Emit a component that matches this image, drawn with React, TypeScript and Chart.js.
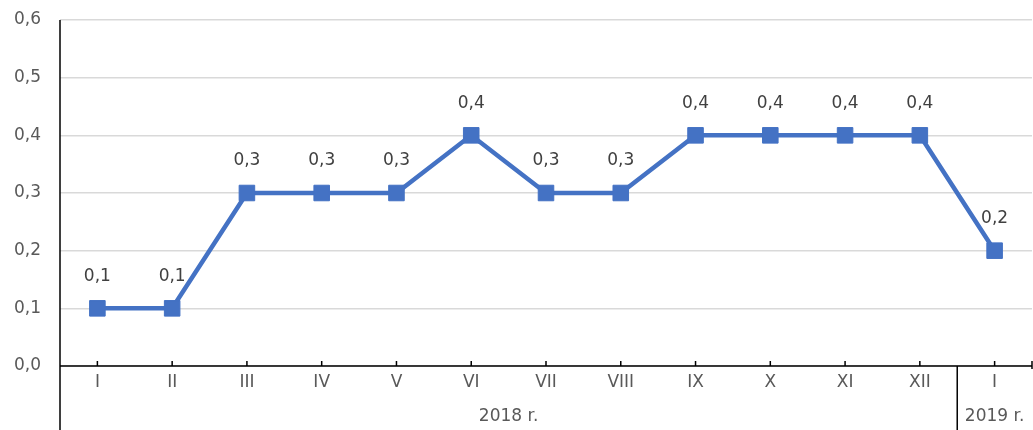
import React, { useEffect, useRef } from "react";
import { Chart, registerables } from "chart.js";

Chart.register(...registerables);

const categories = ["I", "II", "III", "IV", "V", "VI", "VII", "VIII", "IX", "X", "XI", "XII", "I"];
const values = [0.1, 0.1, 0.3, 0.3, 0.3, 0.4, 0.3, 0.3, 0.4, 0.4, 0.4, 0.4, 0.2];
const groups = [
  { label: "2018 r.", from: 0, to: 11 },
  { label: "2019 r.", from: 12, to: 12 },
];
const yTicks = [0, 0.1, 0.2, 0.3, 0.4, 0.5, 0.6];

const FONT = "'DejaVu Sans', sans-serif";
const FSIZE = 17;
const fmt = (v: number) => v.toFixed(1).replace(".", ",");

const overlay = {
  id: "overlay",
  afterDatasetsDraw(chart: any) {
    const ctx = chart.ctx;
    const area = chart.chartArea;
    const x = chart.scales.x;
    const H = chart.height;
    const n = categories.length;
    const step = (area.right - area.left) / n;
    ctx.save();
    // data labels
    const meta = chart.getDatasetMeta(0);
    ctx.font = `${FSIZE}px ${FONT}`;
    ctx.fillStyle = "#404040";
    ctx.textAlign = "center";
    ctx.textBaseline = "middle";
    meta.data.forEach((pt: any, i: number) => {
      ctx.fillText(fmt(values[i]), pt.x, pt.y - 32);
    });
    // axes
    ctx.strokeStyle = "#000000";
    ctx.lineWidth = 1.5;
    ctx.beginPath();
    ctx.moveTo(area.left, area.top);
    ctx.lineTo(area.left, H);
    ctx.moveTo(area.left, area.bottom);
    ctx.lineTo(area.right, area.bottom);
    ctx.stroke();
    // tick marks
    ctx.beginPath();
    for (let i = 0; i < n; i++) {
      const cx = x.getPixelForValue(i);
      ctx.moveTo(cx, area.bottom - 5);
      ctx.lineTo(cx, area.bottom);
    }
    ctx.moveTo(area.right, area.bottom - 5);
    ctx.lineTo(area.right, area.bottom + 3);
    ctx.stroke();
    // x labels
    ctx.fillStyle = "#595959";
    for (let i = 0; i < n; i++) {
      ctx.fillText(categories[i], x.getPixelForValue(i), area.bottom + 17);
    }
    // groups
    ctx.beginPath();
    groups.forEach((g, gi) => {
      const left = area.left + g.from * step;
      const right = area.left + (g.to + 1) * step;
      ctx.fillText(g.label, (left + right) / 2, area.bottom + 51);
      if (gi > 0) {
        ctx.moveTo(left, area.bottom);
        ctx.lineTo(left, H);
      }
    });
    ctx.stroke();
    ctx.restore();
  },
};

export default function App() {
  const ref = useRef<HTMLCanvasElement | null>(null);
  useEffect(() => {
    if (!ref.current) return;
    const chart = new Chart(ref.current, {
      type: "line",
      data: {
        labels: categories,
        datasets: [
          {
            data: values,
            borderColor: "#4472C4",
            backgroundColor: "#4472C4",
            borderWidth: 4.5,
            pointStyle: "rect",
            pointRadius: 11,
            pointBorderWidth: 1,
            pointBorderColor: "#4472C4",
            pointBackgroundColor: "#4472C4",
            tension: 0,
          },
        ],
      },
      options: {
        responsive: false,
        animation: false,
        layout: { autoPadding: false, padding: { left: 0, right: 1, top: 20, bottom: 0 } },
        plugins: { legend: { display: false }, tooltip: { enabled: false } },
        scales: {
          x: {
            type: "category",
            offset: true,
            grid: { display: false },
            border: { display: false },
            ticks: { display: false },
            afterFit: (s: any) => {
              s.height = 64;
              s.paddingLeft = 0;
              s.paddingRight = 0;
            },
          },
          y: {
            min: 0,
            max: 0.6,
            afterBuildTicks: (s: any) => {
              s.ticks = yTicks.map((v) => ({ value: v }));
            },
            grid: { color: "#d9d9d9", lineWidth: 1.5, drawTicks: false },
            border: { display: false },
            ticks: {
              color: "#595959",
              font: { family: FONT, size: FSIZE },
              padding: 19,
              callback: (v: any) => fmt(Number(v)),
            },
            afterFit: (s: any) => {
              s.width = 60;
              s.paddingTop = 0;
              s.paddingBottom = 0;
            },
          },
        },
      },
      plugins: [overlay],
    });
    return () => chart.destroy();
  }, []);
  return (
    <div style={{ position: "fixed", left: 0, top: 0, width: 1033, height: 430, background: "#fff" }}>
      <canvas ref={ref} width={1033} height={430} style={{ display: "block" }} />
    </div>
  );
}
